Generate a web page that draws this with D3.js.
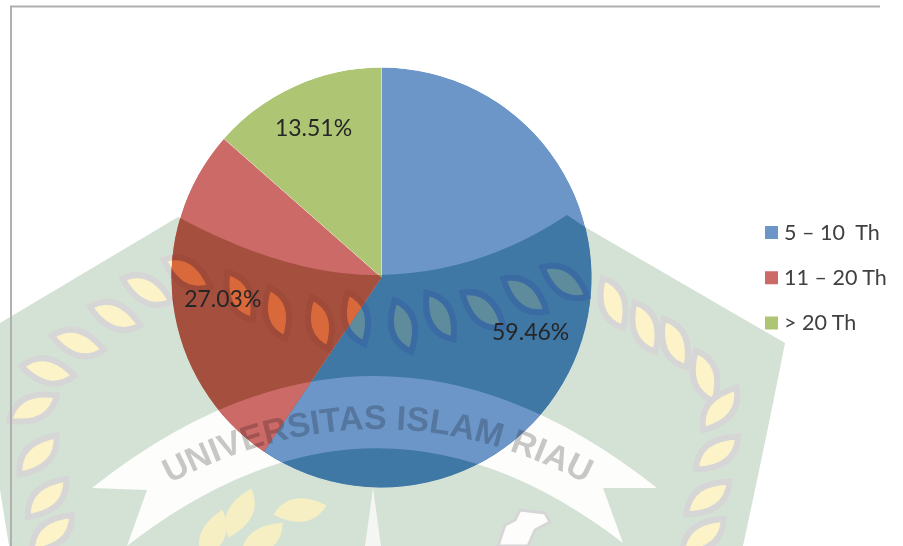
<!DOCTYPE html>
<html lang="en">
<head>
    <meta charset="utf-8">
    <title>Pie chart</title>
    <script src="https://d3js.org/d3.v7.min.js"></script>
    <style>
        html, body { margin: 0; padding: 0; background: #fff; }
        svg { display: block; filter: blur(0.55px); }
        text { font-family: Lato, "Open Sans", sans-serif; }
    </style>
</head>
<body>
    <script>
        // chart data
        var categories = ['5 \u2013 10  Th', '11 \u2013 20 Th', '> 20 Th'];
        var values = [59.46, 27.03, 13.51];
        var sliceColors = ['#6c96c8', '#cc6a68', '#aec673'];

        // colours of each slice where the watermark shows through
        var sliceDark = ['#3f77a5', '#a5503f', '#8aa05a'];
        var sliceLeaf = ['#5f8c9c', '#d9693a', '#c0c070'];
        var sliceRope = ['#3a6ba3', '#a04a3a', '#8a9a55'];

        // watermark leaves: x, y, rotation
        var ringLeaves = [
            [52, 533, -42], [47, 498, -45], [38, 455, -47], [33, 408, -28], [48, 371, 10],
            [78, 343, 15], [115, 316, 20], [147, 290, 25], [187, 273, 30], [240, 296, 62],
            [277, 313, 72], [320, 323, 72], [356, 318, 72], [403, 326, 72], [440, 316, 60],
            [483, 310, 40], [525, 295, 37], [565, 282, 33], [613, 303, 68], [645, 327, 67],
            [675, 343, 65], [705, 376, 70], [720, 409, -52], [717, 453, -38], [708, 498, -37],
            [703, 536, -40]
        ];
        var plantLeaves = [[240, 513, -65], [300, 510, -10], [213, 535, -70], [262, 540, -40]];

        var width = 903, height = 546;
        var cx = 381.5, cy = 277.5, radius = 210;

        var svg = d3.select('body')
            .append('svg')
            .attr('width', width)
            .attr('height', height);

        var leafPath = 'M-27,0 Q-6,-24 27,0 Q6,24 -27,0 Z';
        var greenPath = 'M0,323 L178,217 Q290,277 381,275 Q480,273 567,215 L585,227 L785,343 ' +
            'Q768,430 743,546 L9,546 L0,490 Z';
        var ribbonPath = 'M92,488 Q375,264 657,488 L603,488 L623,543 Q375,352 127,546 L147,490 Z';
        var mapPath = 'M498,546 L505,525 L515,520 L520,510 L545,513 L550,522 L535,530 L528,546 Z';

        // draws the watermark with one set of colours, so it can be repeated inside each slice
        function drawLogo(g, pal) {
            g.append('path').attr('d', greenPath).style('fill', pal.green);

            g.selectAll('.ring')
                .data(ringLeaves)
                .join('path')
                .attr('class', 'ring')
                .attr('d', leafPath)
                .attr('transform', function(d) { return 'translate(' + d[0] + ',' + d[1] + ') rotate(' + d[2] + ')'; })
                .style('fill', pal.leaf)
                .style('stroke', pal.rope)
                .style('stroke-width', 6);

            g.append('path').attr('d', ribbonPath).style('fill', pal.ribbon);
        }

        // watermark on the white page
        var back = svg.append('g');
        drawLogo(back, { green: '#d4e2d6', leaf: '#fdf3c9', rope: '#d6d6d6', ribbon: '#fdfdfb' });

        back.selectAll('.plant')
            .data(plantLeaves)
            .join('path')
            .attr('class', 'plant')
            .attr('d', leafPath)
            .attr('transform', function(d) { return 'translate(' + d[0] + ',' + d[1] + ') rotate(' + d[2] + ')'; })
            .style('fill', '#f6efc4');
        back.append('path').attr('d', 'M373,488 L381,546 L365,546 Z').style('fill', '#f4f6f3');
        back.append('path').attr('d', mapPath).style('fill', '#fdfdfb').style('stroke', '#d6d6d6').style('stroke-width', 3);

        // pie
        var pie = d3.pie().sort(null).value(function(d) { return d; });
        var arc = d3.arc().innerRadius(0).outerRadius(radius);
        var labelRadius = [156, 160, 165];
        var labelDrop = [9, 1, 1];
        var slices = pie(values);

        var defs = svg.append('defs');
        defs.selectAll('clipPath')
            .data(slices)
            .join('clipPath')
            .attr('id', function(d, i) { return 'slice' + i; })
            .append('path')
            .attr('transform', 'translate(' + cx + ',' + cy + ')')
            .attr('d', arc);

        var pieG = svg.append('g');
        slices.forEach(function(d, i) {
            var g = pieG.append('g').attr('clip-path', 'url(#slice' + i + ')');
            g.append('path')
                .attr('transform', 'translate(' + cx + ',' + cy + ')')
                .attr('d', arc(d))
                .style('fill', sliceColors[i]);
            drawLogo(g, { green: sliceDark[i], leaf: sliceLeaf[i], rope: sliceRope[i], ribbon: sliceColors[i] });
        });

        // watermark text goes over the pie and darkens it
        defs.append('path')
            .attr('id', 'ribbonText')
            .attr('d', 'M140,500 Q378,358 615,500');
        svg.append('text')
            .style('font-family', '"Liberation Sans", Arial, sans-serif')
            .style('font-weight', 'bold')
            .style('font-size', '34px')
            .style('fill', '#c9c9c9')
            .style('mix-blend-mode', 'multiply')
            .append('textPath')
            .attr('href', '#ribbonText')
            .attr('startOffset', '50%')
            .attr('text-anchor', 'middle')
            .text('UNIVERSITAS ISLAM RIAU');

        // data labels
        svg.selectAll('.label')
            .data(slices)
            .join('text')
            .attr('class', 'label')
            .attr('text-anchor', 'middle')
            .attr('x', function(d, i) {
                return cx + Math.sin((d.startAngle + d.endAngle) / 2) * labelRadius[i];
            })
            .attr('y', function(d, i) {
                return cy - Math.cos((d.startAngle + d.endAngle) / 2) * labelRadius[i] + labelDrop[i] + 8;
            })
            .style('font-size', '23px')
            .style('fill', '#262626')
            .text(function(d) { return d.value.toFixed(2) + '%'; });

        // legend
        var legendY = d3.scalePoint().domain(categories).range([232.5, 323]);

        svg.selectAll('.swatch')
            .data(categories)
            .join('rect')
            .attr('class', 'swatch')
            .attr('x', 765)
            .attr('y', function(d) { return legendY(d) - 6.5; })
            .attr('width', 13)
            .attr('height', 13)
            .style('fill', function(d, i) { return sliceColors[i]; });

        svg.selectAll('.legend')
            .data(categories)
            .join('text')
            .attr('class', 'legend')
            .attr('x', 784)
            .attr('y', function(d) { return legendY(d) + 7; })
            .style('font-size', '21.5px')
            .style('white-space', 'pre')
            .style('fill', '#404040')
            .text(function(d) { return d; });

        // frame of the original screenshot
        svg.append('path')
            .attr('d', 'M11,546 L11,6.5 L880,6.5')
            .style('fill', 'none')
            .style('stroke', '#b0b0b0')
            .style('stroke-width', 2);
    </script>
</body>
</html>
